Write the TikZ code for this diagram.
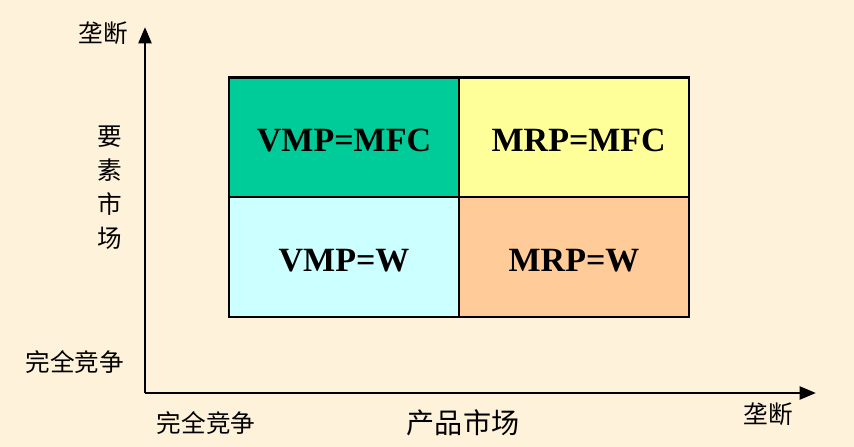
\documentclass[tikz,border=0pt]{standalone}
\usepackage{fontspec}
\setmainfont{Liberation Serif}
\newfontfamily\cjk{Noto Sans CJK SC}
\usetikzlibrary{arrows.meta}
\definecolor{paper}{HTML}{FFF2DA}
\definecolor{mkteal}{HTML}{00CC99}
\definecolor{mkyellow}{HTML}{FFFF99}
\definecolor{mkcyan}{HTML}{CCFFFF}
\definecolor{mkpeach}{HTML}{FFCC99}

\begin{document}
\begin{tikzpicture}[x=0.03cm, y=-0.03cm, line width=2.4pt,
  cell/.style={draw=black, minimum width=6.9cm, minimum height=3.6cm,
    inner sep=0pt, text height=24pt, text depth=0pt,
    font=\fontsize{29}{32}\selectfont\bfseries},
  lab/.style={inner sep=0pt, font=\cjk\fontsize{21}{29}\selectfont}]
  \useasboundingbox[fill=paper] (0,0) rectangle (854,447);
  % axes
  \coordinate (o) at (145,393);
  \coordinate (ytip) at (145,27);
  \coordinate (xtip) at (816,393);
  \draw[-{Triangle[length=14pt,width=11pt]}] (o) -- (ytip);
  \draw[-{Triangle[length=14pt,width=11pt]}] (o) -- (xtip);
  % four cells
  \node[cell, fill=mkteal]   (vmpmfc) at (344,137.5) {VMP=MFC};
  \node[cell, fill=mkyellow] (mrpmfc) at (574,137.5) {\hspace*{8pt}MRP=MFC};
  \node[cell, fill=mkcyan]   (vmpw)   at (344,257)   {VMP=W};
  \node[cell, fill=mkpeach]  (mrpw)   at (574,257)   {MRP=W};
  % axis labels
  \node[lab] (ymono)  at (103,33)  {垄断};
  \node[lab, align=center] (factor) at (110,188) {要\\素\\市\\场};
  \node[lab] (ycomp)  at (75,362)  {完全竞争};
  \node[lab] (xcomp)  at (206,423) {完全竞争};
  \node[lab, font=\cjk\fontsize{24}{29}\selectfont] (product) at (463,423) {产品市场};
  \node[lab] (xmono)  at (768,414) {垄断};
\end{tikzpicture}
\end{document}
